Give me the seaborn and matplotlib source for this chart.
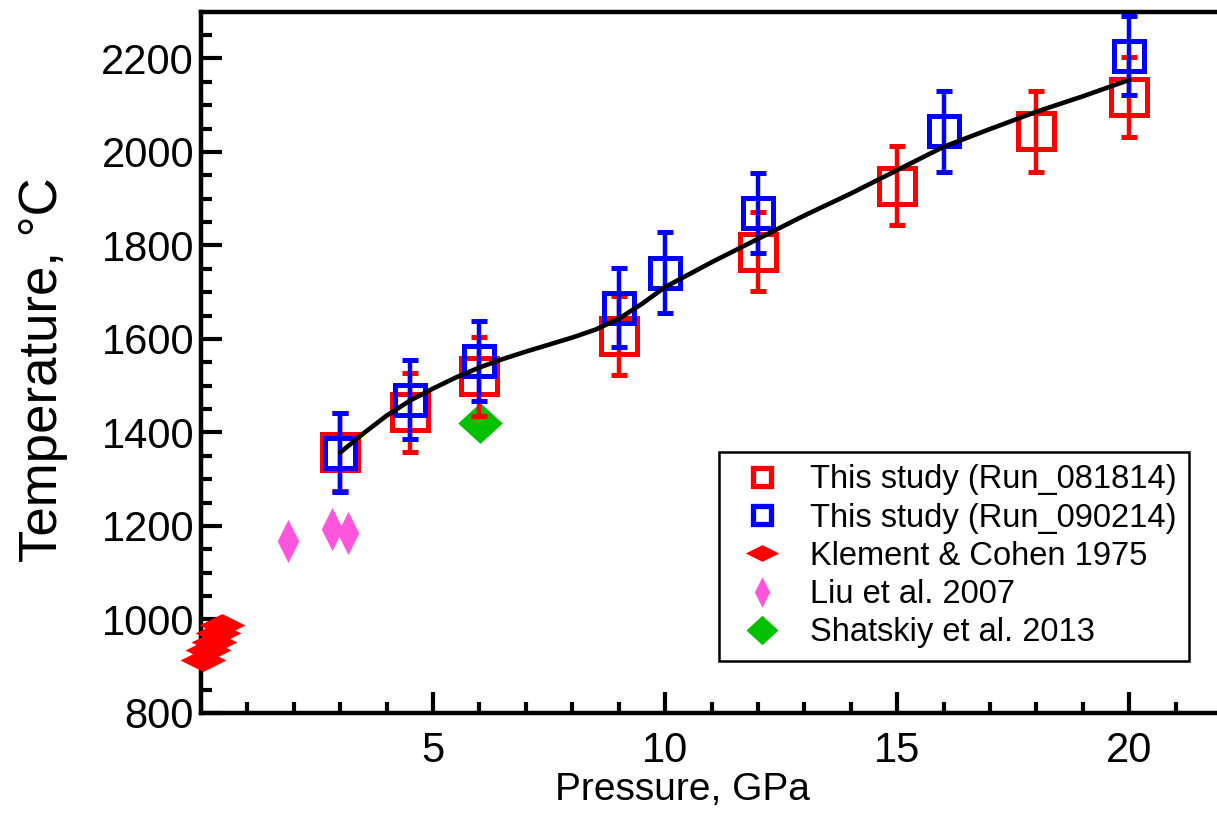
import matplotlib
matplotlib.use("Agg")
import matplotlib.pyplot as plt
from matplotlib.lines import Line2D
import seaborn as sns
import pandas as pd

# ---------------- data ----------------
red_p = [3.0, 4.5, 6.0, 9.0, 12.0, 15.0, 18.0, 20.0]
red_t = [1358, 1443, 1520, 1607, 1787, 1928, 2044, 2118]
red_err = [84, 84, 85, 85, 84, 85, 86, 85]

blue_p = [3.0, 4.5, 6.0, 9.0, 10.0, 12.0, 16.0, 20.0]
blue_t = [1357, 1470, 1553, 1667, 1742, 1869, 2044, 2206]
blue_err = [84, 84, 85, 85, 86, 85, 86, 85]

klement_p = [0.46, 0.37, 0.27, 0.16, 0.05]
klement_t = [989, 971, 952, 934, 914]

liu_p = [1.88, 2.82, 3.17]
liu_t = [1168, 1193, 1186]

shatskiy_p = [6.01]
shatskiy_t = [1421]

fit_p = [3, 3.5, 4, 4.5, 5, 5.5, 6, 6.5, 7, 7.5, 8, 8.5, 9, 9.5, 10, 11, 12,
         13, 14, 15, 16, 17, 18, 19, 20]
fit_t = [1357, 1398, 1436, 1468, 1494, 1518, 1539, 1557, 1573, 1588, 1603,
         1620, 1643, 1675, 1711, 1764, 1814, 1864, 1911, 1961, 2011, 2049,
         2086, 2119, 2154]

x_ticks = [5, 10, 15, 20]
y_ticks = [800, 1000, 1200, 1400, 1600, 1800, 2000, 2200]

labels = ["This study (Run_081814)", "This study (Run_090214)",
          "Klement & Cohen 1975", "Liu et al. 2007", "Shatskiy et al. 2013"]

RED = "#ff0000"
BLUE = "#0000ff"
PINK = "#ff55dd"
GREEN = "#00c000"

# ---------------- style ----------------
sns.set_theme(style="ticks")
plt.rcParams["font.family"] = ["Liberation Sans", "DejaVu Sans"]
plt.rcParams["text.color"] = "black"

fig = plt.figure(figsize=(12.17, 8.26), dpi=100)
ax = fig.add_axes([201 / 1217, 113 / 826, 1021 / 1217, 701.3 / 826])

wide_diamond = [(-1, 0), (0, 0.5), (1, 0), (0, -0.5), (-1, 0)]
tall_diamond = [(0, 1), (0.5, 0), (0, -1), (-0.5, 0), (0, 1)]
green_diamond = [(0, 0.46), (0.5, 0), (0, -0.46), (-0.5, 0), (0, 0.46)]

df_k = pd.DataFrame({"P": klement_p, "T": klement_t})
df_l = pd.DataFrame({"P": liu_p, "T": liu_t})
df_s = pd.DataFrame({"P": shatskiy_p, "T": shatskiy_t})
df_fit = pd.DataFrame({"P": fit_p, "T": fit_t})

sns.scatterplot(data=df_k, x="P", y="T", marker=wide_diamond, s=33 ** 2,
                color=RED, linewidth=0, ax=ax, zorder=3, clip_on=False)
sns.scatterplot(data=df_l, x="P", y="T", marker=tall_diamond, s=31 ** 2,
                color=PINK, linewidth=0, ax=ax, zorder=2)
sns.scatterplot(data=df_s, x="P", y="T", marker=green_diamond, s=32 ** 2,
                color=GREEN, linewidth=0, ax=ax, zorder=2)

ax.errorbar(red_p, red_t, yerr=red_err, fmt="s", ms=26.5, mfc="none", mec=RED,
            mew=3.6, ecolor=RED, elinewidth=3.2, capsize=6, capthick=3.2,
            zorder=3)
ax.errorbar(blue_p, blue_t, yerr=blue_err, fmt="s", ms=22, mfc="none", mec=BLUE,
            mew=3.6, ecolor=BLUE, elinewidth=3.2, capsize=6, capthick=3.2,
            zorder=4, clip_on=False)

sns.lineplot(data=df_fit, x="P", y="T", color="black", lw=3.3, ax=ax,
             sort=False, zorder=5, solid_joinstyle="round", solid_capstyle="round")

# ---------------- axes ----------------
ax.set_xlim(0, 22)
ax.set_ylim(800, 2300)
ax.set_xticks(x_ticks)
ax.set_xticks(range(1, 22), minor=True)
ax.set_yticks(y_ticks)
ax.set_yticks(range(850, 2300, 50), minor=True)
ax.tick_params(axis="both", which="major", direction="in", length=15, width=3,
               labelsize=30, color="black", labelcolor="black")
ax.tick_params(axis="both", which="minor", direction="in", length=8, width=3,
               color="black")
ax.tick_params(axis="x", which="major", pad=13)
ax.tick_params(axis="y", which="major", pad=5)
ax.tick_params(top=False, right=False, which="both")

for side in ["left", "bottom", "top"]:
    ax.spines[side].set_linewidth(3.2)
    ax.spines[side].set_color("black")
ax.spines["right"].set_visible(False)

ax.set_xlabel("Pressure, GPa", fontsize=28, color="black")
ax.xaxis.set_label_coords((682 - 201) / 1021, -0.084)
ax.set_ylabel("Temperature, °C", fontsize=38, color="black")
ax.yaxis.set_label_coords(-0.13, 0.49)

# ---------------- legend ----------------
handles = [
    Line2D([], [], ls="none", marker="s", ms=13.5, mfc="none", mec=RED, mew=3.8),
    Line2D([], [], ls="none", marker="s", ms=13.5, mfc="none", mec=BLUE, mew=3.8),
    Line2D([], [], ls="none", marker=wide_diamond, ms=24, color=RED, mew=0),
    Line2D([], [], ls="none", marker=tall_diamond, ms=22, color=PINK, mew=0),
    Line2D([], [], ls="none", marker=green_diamond, ms=23, color=GREEN, mew=0),
]
leg = ax.legend(handles, labels, loc="upper left",
                bbox_to_anchor=(719 / 1217, 1 - 452 / 826),
                bbox_transform=fig.transFigure, borderaxespad=0,
                fontsize=23.5, frameon=True, fancybox=False, shadow=False,
                handlelength=1.9, handletextpad=0.5, labelspacing=0.22,
                borderpad=0.38, labelcolor="black")
leg.get_frame().set_edgecolor("black")
leg.get_frame().set_linewidth(1.8)
leg.get_frame().set_alpha(1)
leg.set_zorder(10)

fig.savefig("out.png", dpi=100)
